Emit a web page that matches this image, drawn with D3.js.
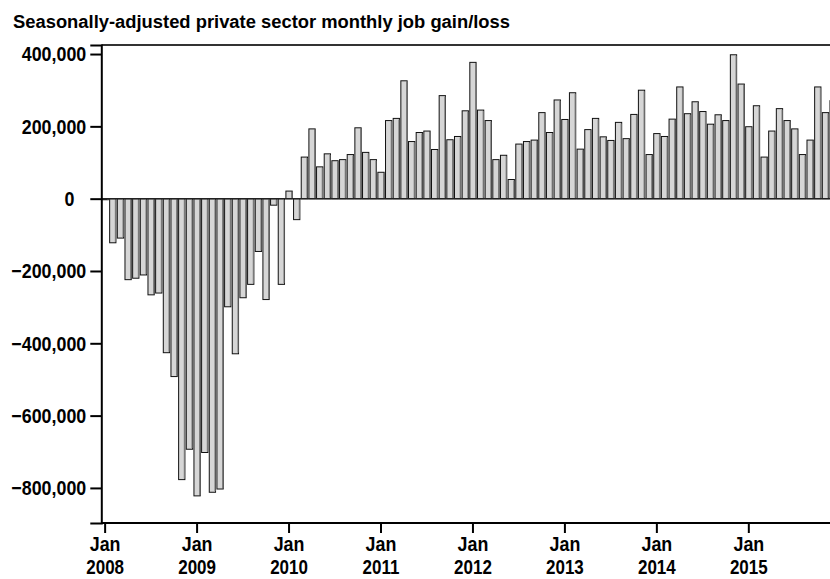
<!DOCTYPE html>
<html>
<head>
<meta charset="utf-8">
<script src="https://cdn.jsdelivr.net/npm/d3@7"></script>
<style>
    body { margin: 0; background: #fff; overflow: hidden; }
    text { font-family: "Liberation Sans", Arial, sans-serif; font-weight: bold; fill: #000; }
</style>
</head>
<body>
<div id="chart"></div>
<script>
// monthly private sector job change, Jan..Dec of each year
var years = [2008, 2009, 2010, 2011, 2012, 2013, 2014, 2015];
var jobs2008 = [-3000, -122000, -109000, -224000, -220000, -211000, -266000, -261000, -426000, -492000, -777000, -693000];
var jobs2009 = [-822000, -702000, -812000, -803000, -299000, -429000, -274000, -237000, -146000, -279000, -18000, -237000];
var jobs2010 = [21000, -58000, 115000, 193000, 88000, 124000, 105000, 108000, 122000, 196000, 128000, 108000];
var jobs2011 = [73000, 216000, 222000, 326000, 158000, 183000, 187000, 136000, 285000, 163000, 172000, 243000];
var jobs2012 = [377000, 245000, 216000, 108000, 120000, 53000, 151000, 158000, 162000, 238000, 183000, 273000];
var jobs2013 = [219000, 293000, 137000, 191000, 222000, 171000, 161000, 211000, 166000, 233000, 300000, 122000];
var jobs2014 = [180000, 172000, 220000, 309000, 235000, 268000, 241000, 206000, 232000, 216000, 398000, 317000];
var jobs2015 = [199000, 257000, 115000, 187000, 249000, 216000, 193000, 122000, 162000, 309000, 238000, 271000];
var yTicks = [400000, 200000, 0, -200000, -400000, -600000, -800000];

// squeeze text horizontally so it looks like a condensed face
function condense(sel, f) {
    sel.each(function () {
        var len = this.getComputedTextLength();
        d3.select(this)
            .attr("textLength", len * f)
            .attr("lengthAdjust", "spacingAndGlyphs");
    });
}

function init() {
    var w = 830;
    var h = 579;
    var left = 101.3, top = 45, bottom = 523;

    var byYear = [jobs2008, jobs2009, jobs2010, jobs2011, jobs2012, jobs2013, jobs2014, jobs2015];
    var dataset = [];
    years.forEach(function (yr, k) {
        byYear[k].forEach(function (v, m) {
            dataset.push({ year: yr, month: m, value: v });
        });
    });

    var xScale = d3.scaleBand()
        .domain(d3.range(dataset.length))
        .range([left, left + dataset.length * 7.663])
        .paddingInner(0.18)
        .paddingOuter(0.09);

    var yScale = d3.scaleLinear()
        .domain([-897000, 425000])
        .range([bottom, top]);

    var svg = d3.select("#chart")
        .append("svg")
        .attr("width", w)
        .attr("height", h);

    svg.append("text")
        .attr("x", 13)
        .attr("y", 28)
        .style("font-size", "18px")
        .text("Seasonally-adjusted private sector monthly job gain/loss")
        .attr("textLength", 497)
        .attr("lengthAdjust", "spacingAndGlyphs");

    // bars
    var bars = svg.selectAll(".bar")
        .data(dataset)
        .enter()
        .append("g")
        .attr("class", "bar");

    bars.append("rect")
        .attr("x", function (d, i) { return xScale(i); })
        .attr("y", function (d) { return yScale(Math.max(0, d.value)); })
        .attr("width", xScale.bandwidth())
        .attr("height", function (d) { return Math.abs(yScale(d.value) - yScale(0)); })
        .attr("fill", "#d6d6d6")
        .attr("stroke", "#111")
        .attr("stroke-width", 1);

    // darker right edge
    bars.append("line")
        .attr("x1", function (d, i) { return xScale(i) + xScale.bandwidth() - 0.5; })
        .attr("x2", function (d, i) { return xScale(i) + xScale.bandwidth() - 0.5; })
        .attr("y1", function (d) { return yScale(Math.max(0, d.value)) + 1; })
        .attr("y2", function (d) { return yScale(Math.min(0, d.value)) - 1; })
        .attr("stroke", "#7a7a7a")
        .attr("stroke-width", 1.2);

    // zero line
    svg.append("line")
        .attr("x1", left)
        .attr("x2", w)
        .attr("y1", yScale(0))
        .attr("y2", yScale(0))
        .attr("stroke", "#222")
        .attr("stroke-width", 1.5);

    // frame top
    svg.append("line")
        .attr("x1", left)
        .attr("x2", w)
        .attr("y1", top)
        .attr("y2", top)
        .attr("stroke", "#333")
        .attr("stroke-width", 2);

    // y axis
    var yAxis = d3.axisLeft(yScale)
        .tickValues(yTicks)
        .tickSize(11)
        .tickPadding(4)
        .tickFormat(d3.format(","));

    var gy = svg.append("g")
        .attr("transform", "translate(" + left + ",0)")
        .call(yAxis);
    gy.select(".domain").attr("stroke", "#000").attr("stroke-width", 2);
    gy.selectAll(".tick line").attr("stroke", "#000").attr("stroke-width", 2);
    gy.selectAll(".tick text")
        .style("font-size", "21px")
        .style("font-family", null)
        .attr("dx", function (d) { return d === 0 ? -12 : 0; })
        .call(condense, 0.85);

    // x axis, one tick each January
    var janIdx = dataset.map(function (d, i) { return i; })
        .filter(function (i) { return dataset[i].month === 0; });

    var xAxis = d3.axisBottom(xScale)
        .tickValues(janIdx)
        .tickSize(10)
        .tickSizeOuter(0)
        .tickFormat("");

    var gx = svg.append("g")
        .attr("transform", "translate(0," + bottom + ")")
        .call(xAxis);
    gx.select(".domain").attr("stroke", "#000").attr("stroke-width", 2).attr("d", "M" + left + ",0H" + w);
    gx.selectAll(".tick line").attr("stroke", "#000").attr("stroke-width", 2);

    var ticks = gx.selectAll(".tick");
    ticks.append("text")
        .attr("text-anchor", "middle")
        .attr("y", 28)
        .style("font-size", "21px")
        .style("font-family", null)
        .text("Jan")
        .call(condense, 0.85);
    ticks.append("text")
        .attr("text-anchor", "middle")
        .attr("y", 51)
        .style("font-size", "20px")
        .style("font-family", null)
        .text(function (i) { return dataset[i].year; })
        .call(condense, 0.85);
}

window.onload = init;
</script>
</body>
</html>
